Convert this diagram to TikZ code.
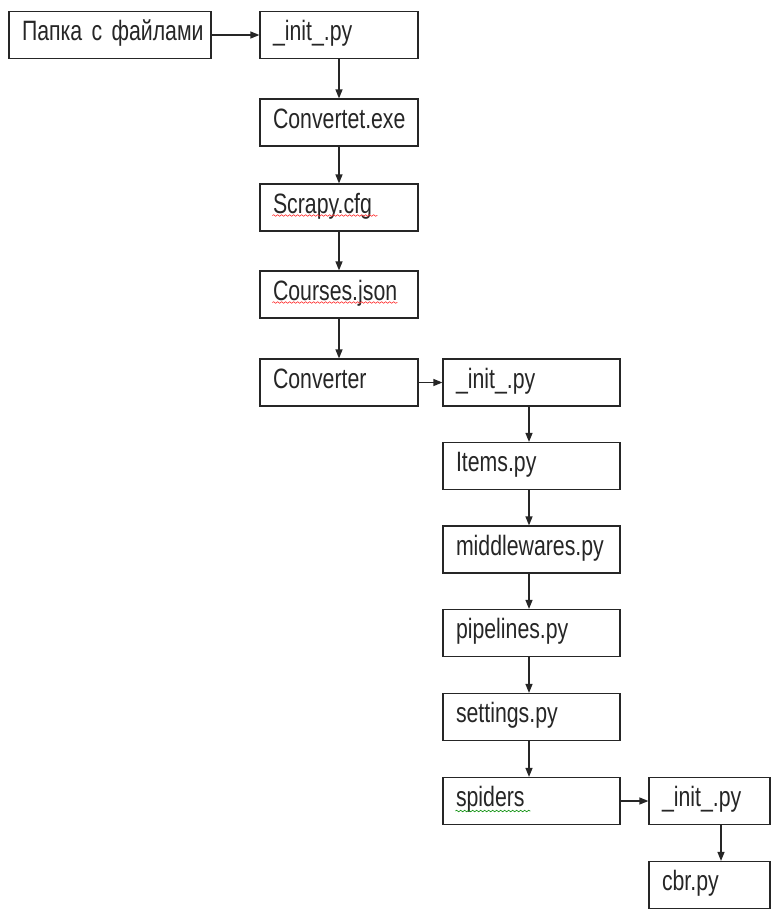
\documentclass[tikz,border=0pt]{standalone}
\usepackage{fontspec}
\setmainfont[FakeStretch=0.76]{Liberation Sans}
\usetikzlibrary{arrows.meta,decorations.pathmorphing}
\begin{document}
\begin{tikzpicture}[x=1pt,y=-1pt,
  box/.style={draw=black!85, line width=1.2pt, minimum height=47pt, inner xsep=13pt, inner ysep=0pt,
    text height=20pt, text depth=9pt, align=left, font=\fontsize{28}{30}\selectfont, text=black!85, anchor=center},
  wA/.style={text width=176pt},
  wB/.style={text width=132pt},
  wC/.style={text width=151pt},
  wD/.style={text width=95pt},
  arr/.style={line width=1.2pt, draw=black!85, -{Triangle[length=9pt,width=7pt]}},
  spell/.style={decorate, decoration={snake, amplitude=0.8pt, segment length=4pt}, line width=0.6pt}]
\useasboundingbox (0,0) rectangle (778,916);
\fill[white] (0,0) rectangle (778,916);

\node[box,wA] (folder) at (110,35) {\mbox{Папка с файлами}};
\node[box,wB] (init1) at (339,35) {\_init\_.py};
\node[box,wB] (convexe) at (339,122.5) {Convertet.exe};
\node[box,wB] (scrapy) at (339,207.5) {Scrapy.cfg};
\node[box,wB] (courses) at (339,294.5) {Courses.json};
\node[box,wB] (converter) at (339,382.5) {Converter};
\node[box,wC] (init2) at (531.5,382.5) {\_init\_.py};
\node[box,wC] (items) at (531.5,466) {Items.py};
\node[box,wC] (middle) at (531.5,549.5) {middlewares.py};
\node[box,wC] (pipes) at (531.5,633) {pipelines.py};
\node[box,wC] (settings) at (531.5,717) {settings.py};
\node[box,wC] (spiders) at (531.5,801) {spiders};
\node[box,wD] (init3) at (709.5,801) {\_init\_.py};
\node[box,wD] (cbr) at (709.5,885) {cbr.py};

\draw[arr] (folder.east) -- (init1.west);
\draw[arr] (init1) -- (convexe);
\draw[arr] (convexe) -- (scrapy);
\draw[arr] (scrapy) -- (courses);
\draw[arr] (courses) -- (converter);
\draw[arr] (converter.east) -- (init2.west);
\draw[arr] ([xshift=-2.5pt]init2.south) -- ([xshift=-2.5pt]items.north);
\draw[arr] ([xshift=-2.5pt]items.south) -- ([xshift=-2.5pt]middle.north);
\draw[arr] ([xshift=-2.5pt]middle.south) -- ([xshift=-2.5pt]pipes.north);
\draw[arr] ([xshift=-2.5pt]pipes.south) -- ([xshift=-2.5pt]settings.north);
\draw[arr] ([xshift=-2.5pt]settings.south) -- ([xshift=-2.5pt]spiders.north);
\draw[arr] (spiders.east) -- (init3.west);
\draw[arr] ([xshift=11.5pt]init3.south) -- ([xshift=11.5pt]cbr.north);

\draw[spell, red!80] ([xshift=13pt,yshift=-8pt]scrapy.west) -- ++(105,0);
\draw[spell, red!80] ([xshift=13pt,yshift=-8pt]courses.west) -- ++(125,0);
\draw[spell, green!55!black] ([xshift=13pt,yshift=-10pt]spiders.west) -- ++(75,0);
\end{tikzpicture}
\end{document}
